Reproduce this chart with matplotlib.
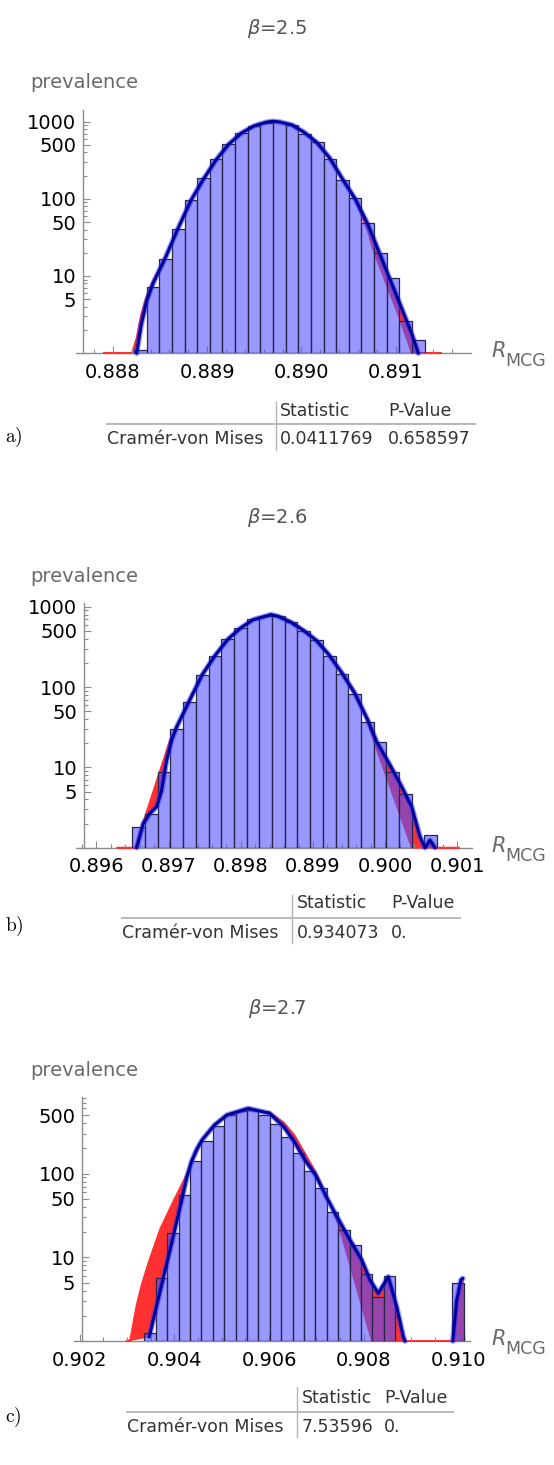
#!/usr/bin/env python3
# -*- coding: utf-8 -*-
"""
Three stacked log-scale histograms of R_MCG (beta = 2.5, 2.6, 2.7) with a
smooth density line, the fitted curve (red band between fit and density)
and a small Cramer-von Mises table under each panel.
"""

import numpy as np
import matplotlib
matplotlib.use("Agg")
import matplotlib.pyplot as plt
from matplotlib.ticker import MultipleLocator, FixedLocator, NullFormatter, FormatStrFormatter

# ---------- Data ----------
BETAS = ["2.5", "2.6", "2.7"]
PANEL_TAGS = ["a)", "b)", "c)"]

# histogram: first bin edge, bin width, counts
EDGE0_A, WIDTH_A = 0.888225, 0.000134
COUNTS_A = [1.1, 7.1, 16.5, 41, 97, 185, 325, 519, 720, 879, 971, 975, 915,
            699, 540, 329, 174, 102, 48, 20, 9.3, 2.6, 1.5]

EDGE0_B, WIDTH_B = 0.896496, 0.000176
COUNTS_B = [1.8, 2.6, 8.7, 30, 66, 142, 243, 396, 537, 702, 765, 760, 650,
            503, 385, 243, 146, 82, 37, 21, 8.7, 4.6, 0, 1.44]

EDGE0_C, WIDTH_C = 0.903362, 0.000241
COUNTS_C = [1.26, 5.6, 19.7, 56, 142, 246, 371, 503, 561, 577, 503, 392, 272,
            178, 108, 68, 34.8, 21.2, 14.2, 6.4, 3.4, 6.0, 0, 0, 0, 0, 0, 5.0]

# smooth density (dark line)
KDE_X_A = [0.888253, 0.888300, 0.888360, 0.888426, 0.888560, 0.888694, 0.888828,
           0.888962, 0.889096, 0.889230, 0.889364, 0.889498, 0.889632, 0.889700,
           0.889766, 0.889900, 0.890034, 0.890168, 0.890302, 0.890436, 0.890570,
           0.890704, 0.890815, 0.890903, 0.891034, 0.891172, 0.891240]
KDE_Y_A = [1.0, 2.3, 4.8, 8.0, 17.5, 42, 95, 180, 320, 510, 710, 880, 985, 1010,
           990, 905, 720, 530, 335, 180, 100, 47, 21.7, 11.7, 4.7, 1.77, 1.0]

KDE_X_B = [0.896557, 0.896648, 0.896741, 0.896834, 0.896903, 0.896972, 0.897042,
           0.897112, 0.897288, 0.897464, 0.897640, 0.897816, 0.897992, 0.898168,
           0.898420, 0.898520, 0.898696, 0.898872, 0.899048, 0.899224, 0.899400,
           0.899576, 0.899752, 0.899882, 0.900066, 0.900205, 0.900367, 0.900482,
           0.900551, 0.900620, 0.900690]
KDE_Y_B = [1.0, 2.0, 2.68, 3.24, 5.2, 12.3, 22, 32, 68, 142, 245, 390, 540, 690,
           800, 760, 640, 505, 380, 250, 150, 85, 40, 20.9, 10.7, 6.3, 3.24, 1.37,
           1.0, 1.24, 1.0]

KDE_X_C = [0.903468, 0.903652, 0.903821, 0.903990, 0.904152, 0.904260, 0.904360,
           0.904470, 0.904584, 0.904846, 0.905109, 0.905558, 0.906007, 0.906307,
           0.906532, 0.906757, 0.906981, 0.907206, 0.907431, 0.907708, 0.907955,
           0.908130, 0.908306, 0.908517, 0.908694, 0.908834, 0.908869, 0.909880,
           0.909960, 0.910052, 0.910090]
KDE_Y_C = [1.13, 3.09, 7.7, 19.4, 48.4, 90, 140, 195, 253, 381, 502, 601, 526,
           364, 241, 145, 96.5, 53, 30.6, 16.1, 9.3, 5.35, 3.71, 5.86, 2.57, 1.13,
           1.0, 1.0, 3.0, 5.36, 5.6]

# fitted distribution (other edge of the red band)
FIT_X_A = [0.887895, 0.888202, 0.888253, 0.888300, 0.888360, 0.888426, 0.888560,
           0.888694, 0.888828, 0.888962, 0.889096, 0.889230, 0.889364, 0.889498,
           0.889632, 0.889700, 0.889766, 0.889900, 0.890034, 0.890168, 0.890302,
           0.890436, 0.890570, 0.890704, 0.890762, 0.890903, 0.891034, 0.891170,
           0.891491]
FIT_Y_A = [1, 1, 1.6, 3.2, 5.6, 8.6, 18, 42, 95, 180, 320, 510, 710, 880, 980,
           1000, 985, 900, 715, 525, 330, 175, 96, 38, 21.7, 7.7, 3.0, 1.0, 1]

FIT_X_B = [0.896280, 0.896533, 0.897018, 0.897112, 0.897288, 0.897464, 0.897640,
           0.897816, 0.897992, 0.898168, 0.898420, 0.898520, 0.898696, 0.898872,
           0.899048, 0.899224, 0.899400, 0.899576, 0.899752, 0.899835, 0.900367,
           0.901036]
FIT_Y_B = [1, 1, 22, 32, 70, 145, 250, 395, 545, 690, 790, 770, 660, 510, 375,
           245, 145, 80, 38, 22, 1, 1]

FIT_X_C = [0.902974, 0.903060, 0.903200, 0.903311, 0.903461, 0.903700, 0.903985,
           0.904247, 0.904470, 0.904584, 0.904846, 0.905109, 0.905558, 0.906007,
           0.906307, 0.906532, 0.906757, 0.906981, 0.907206, 0.907468, 0.908170,
           0.910127]
FIT_Y_C = [1, 1, 2.7, 4.8, 9.0, 22, 48, 95, 180, 250, 375, 495, 570, 545, 410,
           290, 175, 105, 56, 24, 1, 1]

# y tick labels per panel
YTICKS_A = [5, 10, 50, 100, 500, 1000]
YTICKS_B = [5, 10, 50, 100, 500, 1000]
YTICKS_C = [5, 10, 50, 100, 500]

# Cramer-von Mises tables
TEST_NAME = "Cramér-von Mises"
TABLE_HEAD = ["Statistic", "P-Value"]
STATS = ["0.0411769", "0.934073", "7.53596"]
PVALUES = ["0.658597", "0.", "0."]

# ---------- Layout (pixels of a 554 x 1465 canvas) ----------
W, H = 554, 1465
PANELS = [
    dict(box=(75.5, 110, 471, 353.2), xlim=(0.887604, 0.891799), yaxis=0.887687,
         ytop=1413, major=0.001, minor=0.0002, title_y=28, prev_y=83, tag_y=437,
         edge0=EDGE0_A, width=WIDTH_A, counts=COUNTS_A, yticks=YTICKS_A,
         kx=KDE_X_A, ky=KDE_Y_A, fx=FIT_X_A, fy=FIT_Y_A,
         tab=dict(vx=276, vy=(401.7, 450), hy=424.3, hx=(107, 475), head_y=410.7,
                  row_y=439.3, c0=107, c1=280, c2=388)),
    dict(box=(76, 602.7, 471.6, 847.7), xlim=(0.895716, 0.901197), yaxis=0.895827,
         ytop=1125, major=0.001, minor=0.0002, title_y=517, prev_y=577, tag_y=926,
         edge0=EDGE0_B, width=WIDTH_B, counts=COUNTS_B, yticks=YTICKS_B,
         kx=KDE_X_B, ky=KDE_Y_B, fx=FIT_X_B, fy=FIT_Y_B,
         tab=dict(vx=291.7, vy=(895, 943), hy=918.3, hx=(121.7, 460), head_y=903.3,
                  row_y=932.7, c0=121.7, c1=296.7, c2=391)),
    dict(box=(73.8, 1096.7, 470, 1341), xlim=(0.901873, 0.910243), yaxis=0.902053,
         ytop=830, major=0.002, minor=0.0005, title_y=1008, prev_y=1071, tag_y=1417,
         edge0=EDGE0_C, width=WIDTH_C, counts=COUNTS_C, yticks=YTICKS_C,
         kx=KDE_X_C, ky=KDE_Y_C, fx=FIT_X_C, fy=FIT_Y_C,
         tab=dict(vx=296.7, vy=(1386.7, 1436.7), hy=1412.3, hx=(126.7, 453.3),
                  head_y=1397.7, row_y=1427.3, c0=126.7, c1=301.7, c2=384)),
]

BAR_FACE = (0.33, 0.33, 1.0, 0.6)
BAR_EDGE = "#26264a"
FIT_RED = "#ff3030"
KDE_DARK = "#00009a"
AXIS_GREY = "#8c8c8c"
LABEL_GREY = "#6a6a6a"


def fx(x):
    return x / W


def fy(y):
    return 1 - y / H


def break_flat(xs, ys):
    """Insert NaN between consecutive baseline points so the line is not
    drawn along the axis."""
    out_x, out_y = [], []
    for j in range(len(xs)):
        out_x.append(xs[j])
        out_y.append(ys[j])
        if j + 1 < len(xs) and ys[j] <= 1 and ys[j + 1] <= 1:
            out_x.append(np.nan)
            out_y.append(np.nan)
    return out_x, out_y


fig = plt.figure(figsize=(W / 100, H / 100), dpi=100)

for i, p in enumerate(PANELS):
    l, t, r, b = p["box"]
    ax = fig.add_axes([fx(l), fy(b), (r - l) / W, (b - t) / H])
    ax.set_yscale("log")
    ax.set_xlim(*p["xlim"])
    ax.set_ylim(1, p["ytop"])

    # red band between fitted curve and density
    poly_x = np.concatenate([p["fx"], p["kx"][::-1]])
    poly_y = np.concatenate([p["fy"], p["ky"][::-1]])
    ax.fill(poly_x, poly_y, facecolor=FIT_RED, edgecolor=FIT_RED, lw=1.2,
            zorder=1, clip_on=False)

    # histogram bars (bottom at 1 on the log axis)
    counts = np.asarray(p["counts"], dtype=float)
    lefts = p["edge0"] + p["width"] * np.arange(len(counts))
    keep = counts > 0
    ax.bar(lefts[keep], counts[keep] - 1, width=p["width"], bottom=1,
           align="edge", color=BAR_FACE, edgecolor=BAR_EDGE, linewidth=0.9,
           zorder=2)

    # density line: translucent halo + dark core
    lx, ly = break_flat(p["kx"], p["ky"])
    ax.plot(lx, ly, color=(0.2, 0.2, 1.0), alpha=0.5, lw=4.0,
            solid_capstyle="round", zorder=3, clip_on=False)
    ax.plot(lx, ly, color=KDE_DARK, lw=2.2, solid_capstyle="round",
            zorder=4, clip_on=False)

    # Mathematica-like axes
    for s in ["top", "right"]:
        ax.spines[s].set_visible(False)
    ax.spines["left"].set_position(("data", p["yaxis"]))
    for s in ["left", "bottom"]:
        ax.spines[s].set_color(AXIS_GREY)
        ax.spines[s].set_linewidth(1.0)
        ax.spines[s].set_zorder(0.5)
    ax.patch.set_alpha(0)

    ax.xaxis.set_major_locator(MultipleLocator(p["major"]))
    ax.xaxis.set_minor_locator(MultipleLocator(p["minor"]))
    ax.xaxis.set_major_formatter(FormatStrFormatter("%.3f"))
    ax.yaxis.set_major_locator(FixedLocator(p["yticks"]))
    ax.yaxis.set_major_formatter(FormatStrFormatter("%d"))
    minors = [m * 10 ** d for d in range(0, 4) for m in range(1, 10)]
    ax.yaxis.set_minor_locator(FixedLocator([v for v in minors if v not in p["yticks"]]))
    ax.yaxis.set_minor_formatter(NullFormatter())

    ax.tick_params(axis="both", which="both", direction="in", color=AXIS_GREY,
                   width=0.8, labelcolor="black", labelsize=14)
    ax.tick_params(axis="x", which="major", length=5, pad=7)
    ax.tick_params(axis="x", which="minor", length=3)
    ax.tick_params(axis="y", which="major", length=5, pad=5)
    ax.tick_params(axis="y", which="minor", length=3)

    # titles and axis labels
    fig.text(fx(277), fy(p["title_y"]), r"$\beta$=" + BETAS[i], ha="center",
             va="center", fontsize=14, color="#555555")
    fig.text(fx(30), fy(p["prev_y"]), "prevalence", ha="left", va="center",
             fontsize=14, color=LABEL_GREY)
    fig.text(fx(491), fy(b + 4), "R", ha="left", va="baseline", fontsize=15,
             style="italic", color=LABEL_GREY)
    fig.text(fx(505), fy(b + 13), "MCG", ha="left", va="baseline", fontsize=12.5,
             color=LABEL_GREY)

    # panel tag
    fig.text(fx(5), fy(p["tag_y"]), r"$\mathrm{" + PANEL_TAGS[i] + "}$",
             ha="left", va="center", fontsize=14, math_fontfamily="cm")

    # goodness-of-fit table
    tb = p["tab"]
    fig.add_artist(plt.Line2D([fx(tb["vx"]), fx(tb["vx"])],
                              [fy(tb["vy"][0]), fy(tb["vy"][1])],
                              color="#b4b4b4", lw=1.0))
    fig.add_artist(plt.Line2D([fx(tb["hx"][0]), fx(tb["hx"][1])],
                              [fy(tb["hy"]), fy(tb["hy"])],
                              color="#b4b4b4", lw=1.3))
    tkw = dict(ha="left", va="center", fontsize=12.5, color="#333333")
    fig.text(fx(tb["c1"]), fy(tb["head_y"]), TABLE_HEAD[0], **tkw)
    fig.text(fx(tb["c2"]), fy(tb["head_y"]), TABLE_HEAD[1], **tkw)
    fig.text(fx(tb["c0"]), fy(tb["row_y"]), TEST_NAME, **tkw)
    fig.text(fx(tb["c1"]), fy(tb["row_y"]), STATS[i], **tkw)
    fig.text(fx(tb["c2"]), fy(tb["row_y"]), PVALUES[i], **tkw)

fig.savefig("out.png", dpi=100)
